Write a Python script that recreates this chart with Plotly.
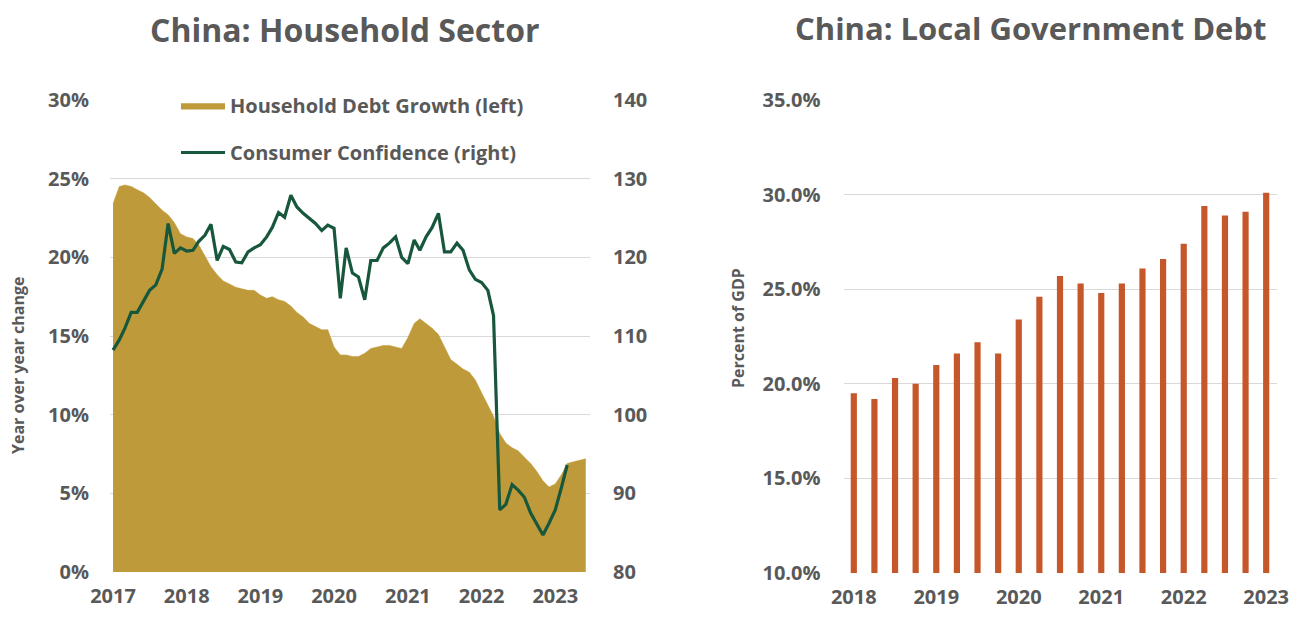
import pandas as pd
import plotly.graph_objects as go

# ---------------- data ----------------
# Monthly, Jan 2017 .. Jun 2023 (household debt growth, % y/y)
debt_months = pd.date_range("2017-01-01", periods=78, freq="MS")
household_debt_growth = [
    23.4, 24.5, 24.6, 24.5, 24.3, 24.1, 23.8, 23.4, 23.0, 22.7, 22.2, 21.5,
    21.3, 21.2, 20.8, 20.1, 19.4, 18.9, 18.5, 18.3, 18.1, 18.0, 17.9, 17.9,
    17.6, 17.4, 17.5, 17.3, 17.2, 16.9, 16.5, 16.2, 15.8, 15.6, 15.4, 15.4,
    14.3, 13.8, 13.8, 13.7, 13.7, 13.9, 14.2, 14.3, 14.4, 14.4, 14.3, 14.2,
    14.9, 15.8, 16.1, 15.8, 15.5, 15.1, 14.3, 13.5, 13.2, 12.9, 12.7, 12.2,
    11.4, 10.6, 9.9, 8.8, 8.2, 7.9, 7.7, 7.3, 6.9, 6.4, 5.8, 5.4,
    5.6, 6.2, 6.9, 7.0, 7.1, 7.2,
]
# Monthly, Jan 2017 .. Mar 2023 (consumer confidence index)
conf_months = pd.date_range("2017-01-01", periods=75, freq="MS")
consumer_confidence = [
    108.2, 109.5, 111.0, 113.0, 113.0, 114.5, 115.8, 116.5, 118.5, 124.3, 120.5, 121.2,
    120.8, 120.9, 122.0, 122.8, 124.2, 119.6, 121.4, 121.0, 119.4, 119.3, 120.7, 121.2,
    121.6, 122.6, 123.8, 125.7, 125.1, 127.9, 126.4, 125.6, 124.9, 124.3, 123.4, 124.1,
    123.7, 114.8, 121.2, 118.0, 117.5, 114.6, 119.6, 119.6, 121.2, 121.8, 122.6, 120.0,
    119.2, 122.2, 120.9, 122.6, 123.8, 125.6, 120.7, 120.7, 121.8, 120.9, 118.4, 117.2,
    116.8, 115.8, 112.6, 87.9, 88.6, 91.1, 90.4, 89.5, 87.5, 86.1, 84.7, 86.2,
    87.9, 90.8, 93.6,
]
left_year_ticks = ["2017-01-01", "2018-01-01", "2019-01-01", "2020-01-01",
                   "2021-01-01", "2022-01-01", "2023-01-01"]
left_year_labels = ["2017", "2018", "2019", "2020", "2021", "2022", "2023"]

# Quarterly local government debt, % of GDP, 2018Q1 .. 2023Q1
quarters = [f"{y}Q{q}" for y in range(2018, 2024) for q in range(1, 5)][:21]
local_gov_debt = [19.5, 19.2, 20.3, 20.0, 21.0, 21.6, 22.2, 21.6, 23.4, 24.6, 25.7,
                  25.3, 24.8, 25.3, 26.1, 26.6, 27.4, 29.4, 28.9, 29.1, 30.1]
right_tick_cats = ["2018Q1", "2019Q1", "2020Q1", "2021Q1", "2022Q1", "2023Q1"]
right_tick_labels = ["2018", "2019", "2020", "2021", "2022", "2023"]

# ---------------- style ----------------
W, H = 1302, 618
GRAY = "#595959"
GRID = "#D9D9D9"
GOLD = "#BE9A3B"
GREEN = "#17573C"
ORANGE = "#C5572A"
FONT = "Open Sans"


def px(x):
    return x / W


def py(y):
    return 1 - y / H


fig = go.Figure()

fig.add_trace(go.Scatter(
    x=debt_months, y=[v / 100 for v in household_debt_growth],
    name="Household Debt Growth (left)", mode="lines", fill="tozeroy",
    fillcolor=GOLD, line=dict(color=GOLD, width=0.5),
    xaxis="x", yaxis="y", legendgroup="a",
))
fig.add_trace(go.Scatter(
    x=conf_months, y=consumer_confidence,
    name="Consumer Confidence (right)", mode="lines",
    line=dict(color=GREEN, width=3.2),
    xaxis="x", yaxis="y2", legendgroup="b",
))
fig.add_trace(go.Bar(
    x=quarters, y=[v / 100 for v in local_gov_debt], marker_color=ORANGE,
    marker_line_width=0, xaxis="x2", yaxis="y3", showlegend=False,
))

tickfont_x = dict(family=FONT, size=20, color=GRAY, weight="bold")
tickfont_y = dict(family=FONT, size=20, color=GRAY, weight="bold")

fig.update_layout(
    width=W, height=H,
    margin=dict(l=0, r=0, t=0, b=0, autoexpand=False),
    paper_bgcolor="white", plot_bgcolor="white",
    font=dict(family=FONT, color=GRAY),
    bargap=0.7,
    xaxis=dict(
        domain=[px(110), px(590)], type="date",
        range=["2016-12-17", "2023-06-22"],
        tickmode="array", tickvals=left_year_ticks, ticktext=left_year_labels,
        showgrid=False, zeroline=False, showline=False, ticks="",
        tickfont=tickfont_x, ticklabelstandoff=10, anchor="y", automargin=False,
    ),
    yaxis=dict(
        domain=[py(572), py(100)], range=[0, 0.30], dtick=0.05, tickformat=".0%",
        showgrid=True, gridcolor=GRID, gridwidth=1, zeroline=False,
        ticks="", tickfont=tickfont_y, ticklabelstandoff=20, anchor="x", automargin=False,
    ),
    yaxis2=dict(
        overlaying="y", side="right", range=[80, 140], dtick=10,
        showgrid=False, zeroline=False, ticks="", tickfont=tickfont_x,
        ticklabelstandoff=22, anchor="x", automargin=False,
    ),
    xaxis2=dict(
        domain=[px(843.5), px(1276.5)], type="category",
        tickmode="array", tickvals=right_tick_cats, ticktext=right_tick_labels,
        showgrid=False, zeroline=False, showline=False, ticks="",
        tickfont=tickfont_x, ticklabelstandoff=10, anchor="y3", automargin=False,
    ),
    yaxis3=dict(
        domain=[py(573), py(100)], range=[0.10, 0.35], dtick=0.05, tickformat=".1%",
        showgrid=True, gridcolor=GRID, gridwidth=1, zeroline=False,
        ticks="", tickfont=tickfont_y, ticklabelstandoff=22, anchor="x2", automargin=False,
    ),
    legend=dict(
        x=px(176), y=py(86), xanchor="left", yanchor="top",
        bgcolor="white", borderwidth=0, traceorder="grouped", tracegroupgap=18,
        itemwidth=44, font=dict(family=FONT, size=20, color=GRAY, weight="bold"),
    ),
    annotations=[
        dict(text="China: Household Sector", x=px(345), y=py(30), xref="paper", yref="paper",
             showarrow=False, xanchor="center", yanchor="middle",
             font=dict(family=FONT, size=32, color=GRAY, weight="bold")),
        dict(text="China: Local Government Debt", x=px(1030), y=py(28), xref="paper", yref="paper",
             showarrow=False, xanchor="center", yanchor="middle",
             font=dict(family=FONT, size=31, color=GRAY, weight="bold")),
        dict(text="Year over year change", x=px(18), y=py(366), xref="paper", yref="paper",
             showarrow=False, textangle=-90, xanchor="center", yanchor="middle",
             font=dict(family=FONT, size=16, color=GRAY, weight="bold")),
        dict(text="Percent of GDP", x=px(738), y=py(328), xref="paper", yref="paper",
             showarrow=False, textangle=-90, xanchor="center", yanchor="middle",
             font=dict(family=FONT, size=16, color=GRAY, weight="bold")),
    ],
)

fig.write_html("out.html")
